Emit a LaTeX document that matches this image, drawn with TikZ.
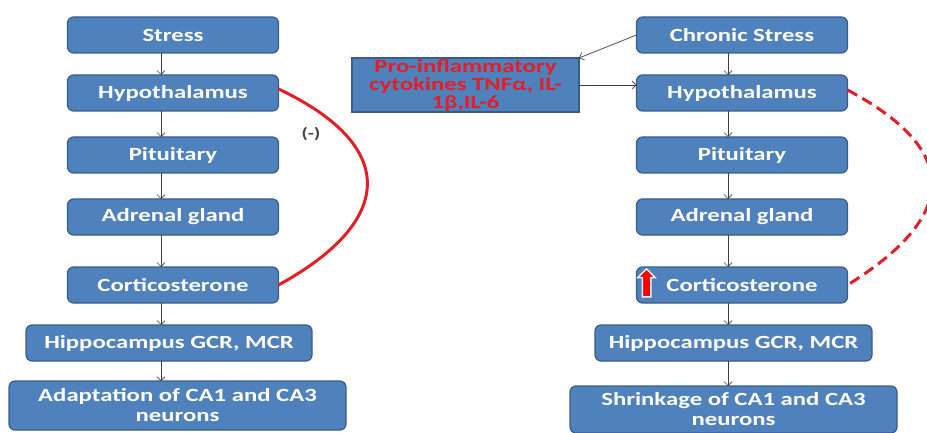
\documentclass[tikz,border=0pt]{standalone}
\usepackage{fontspec}
\setsansfont{Carlito}[FakeStretch=1.33]
\usetikzlibrary{positioning, arrows.meta, shapes.arrows}

\definecolor{boxblue}{RGB}{79,129,189}
\definecolor{boxline}{RGB}{56,93,138}
\definecolor{fbred}{RGB}{228,30,36}

\begin{document}
\begin{tikzpicture}[x=1pt, y=-1pt,
            stage/.style={draw=boxline, line width=1.2pt, fill=boxblue, rounded corners=6pt, minimum width=211pt, minimum height=36pt, inner sep=0pt, outer sep=0pt, text=white, align=center, font=\sffamily\bfseries\fontsize{18.6}{20}\selectfont},
            cytobox/.style={draw=boxline, line width=1.2pt, fill=boxblue, minimum width=227pt, minimum height=54pt, inner sep=0pt, outer sep=0pt, text=fbred, align=center, font=\sffamily\bfseries\fontsize{18.6}{18}\selectfont},
            arr/.style={draw=black!75, line width=0.7pt, -{Straight Barb[length=4pt, width=8pt]}},
            feedback/.style={draw=fbred, line width=3pt},
            varlabel/.style={text=black!75, font=\sffamily\bfseries\fontsize{15}{15}\selectfont}
        ]
        \useasboundingbox (0,0) rectangle (927,433);

        % Knoten links
        \node[stage] (stressL) at (173,35) {Stress};
        \node[stage, below=22pt of stressL] (hypoL) {Hypothalamus};
        \node[stage, below=26pt of hypoL] (pitL) {Pituitary};
        \node[stage, below=26pt of pitL] (adrL) {Adrenal gland};
        \node[stage, below=32pt of adrL] (cortL) {Corticosterone};
        \node[stage, minimum width=286pt, below=22pt of cortL, xshift=-4pt] (hipL) {Hippocampus GCR, MCR};
        \node[stage, minimum width=337pt, minimum height=49pt, below=20pt of hipL, xshift=8.5pt] (adaL) {Adaptation of CA1 and CA3\\neurons};

        % Knoten rechts
        \node[stage] (stressR) at (742,35) {Chronic Stress};
        \node[stage, below=22pt of stressR] (hypoR) {Hypothalamus};
        \node[stage, below=26pt of hypoR] (pitR) {Pituitary};
        \node[stage, below=26pt of pitR] (adrR) {Adrenal gland};
        \node[stage, below=32pt of adrR] (cortR) {Corticosterone};
        \node[single arrow, shape border rotate=90, fill=red, draw=white!90!boxblue, line width=1.5pt, inner sep=3.5pt, single arrow head extend=4.5pt, minimum height=28pt, right=5pt of cortR.west] (upR) {};
        \node[stage, minimum width=277pt, below=22pt of cortR, xshift=-8.5pt] (hipR) {Hippocampus GCR, MCR};
        \node[stage, minimum width=327pt, minimum height=47pt, below=25pt of hipR] (shrR) {Shrinkage of CA1 and CA3\\neurons};

        \node[cytobox] (cyto) at (465.5,85) {Pro-inflammatory\\cytokines TNFα, IL-\\1β,IL-6};

        \coordinate (colL) at (161,0);
        \coordinate (colR) at (728,0);

        % Kanten
        \draw[arr] (stressL.south -| colL) -- (hypoL.north -| colL);
        \draw[arr] (hypoL.south -| colL) -- (pitL.north -| colL);
        \draw[arr] (pitL.south -| colL) -- (adrL.north -| colL);
        \draw[arr] (adrL.south -| colL) -- (cortL.north -| colL);
        \draw[arr] (cortL.south -| colL) -- (hipL.north -| colL);
        \draw[arr] (hipL.south -| colL) -- (adaL.north -| colL);

        \draw[arr] (stressR.south -| colR) -- (hypoR.north -| colR);
        \draw[arr] (hypoR.south -| colR) -- (pitR.north -| colR);
        \draw[arr] (pitR.south -| colR) -- (adrR.north -| colR);
        \draw[arr] (adrR.south -| colR) -- (cortR.north -| colR);
        \draw[arr] (cortR.south -| colR) -- (hipR.north -| colR);
        \draw[arr] (hipR.south -| colR) -- (shrR.north -| colR);

        \draw[arr] (stressR.west) -- (cyto.north east);
        \draw[arr] (cyto.east) -- (cyto.east -| hypoR.west);

        % Rueckkopplung
        \draw[feedback] ([yshift=4pt]hypoL.east) .. controls (397,145) and (397,220) .. (cortL.east);
        \draw[feedback, dash pattern=on 11pt off 6pt] ([yshift=3pt]hypoR.east) .. controls (960,150) and (960,215) .. (cortR.east);
        \node[varlabel] (neg) at (311,134) {(-)};

    \end{tikzpicture}
\end{document}
